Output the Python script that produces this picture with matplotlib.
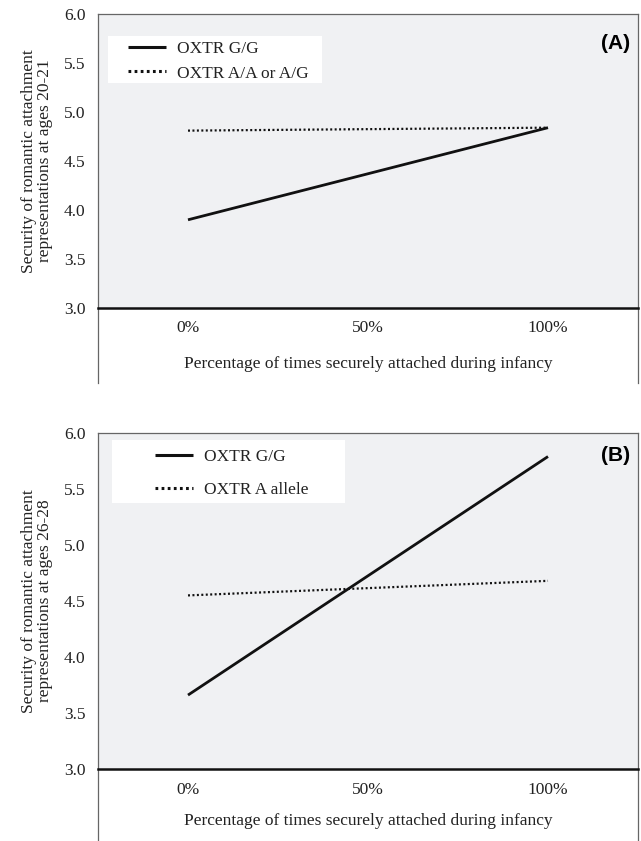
import matplotlib.pyplot as plt
from matplotlib.lines import Line2D
from matplotlib.patches import Rectangle

# categories on the x axis
x_labels = ['0%', '50%', '100%']
x_pos = [0, 1, 2]

# panel A: ages 20-21
a_gg = [3.90, 4.84]
a_other = [4.81, 4.84]
# panel B: ages 26-28
b_gg = [3.66, 5.79]
b_other = [4.55, 4.68]

plt.rcParams['font.family'] = ['Liberation Serif', 'DejaVu Serif']
FS = 12.5

fig = plt.figure(figsize=(6.41, 8.41), dpi=100)
axA = fig.add_axes([98/641, 1-308/841, 540/641, 294/841])
axB = fig.add_axes([98/641, 1-769/841, 540/641, 336/841])


def panel(ax, gg, other, lab_other, ylab, tag, tag_y, ext, xpad, box, anchor, spacing):
    ax.set_facecolor('#f0f1f3')
    ax.plot([x_pos[0], x_pos[2]], gg, color='#111111', lw=2.0, solid_capstyle='butt',
            label='OXTR G/G')
    ax.plot([x_pos[0], x_pos[2]], other, color='#111111', lw=1.6, ls=(0, (0.9, 1.1)),
            label=lab_other)
    ax.set_xlim(-0.5, 2.5)
    ax.set_ylim(3.0, 6.0)
    ax.set_yticks([3.0, 3.5, 4.0, 4.5, 5.0, 5.5, 6.0])
    ax.set_yticklabels(['%.1f' % v for v in [3.0, 3.5, 4.0, 4.5, 5.0, 5.5, 6.0]])
    ax.set_xticks(x_pos)
    ax.set_xticklabels(x_labels)
    ax.tick_params(length=0, labelsize=FS, colors='#222222')
    ax.tick_params(axis='y', pad=9)
    ax.tick_params(axis='x', pad=9)
    for s in ['top', 'left', 'right']:
        ax.spines[s].set_color('#666666')
        ax.spines[s].set_linewidth(0.9)
    ax.spines['bottom'].set_color('#111111')
    ax.spines['bottom'].set_linewidth(1.8)
    # frame lines continuing below the x axis
    for xx in [0, 1]:
        ax.add_line(Line2D([xx, xx], [0, -ext], transform=ax.transAxes, color='#666666',
                           lw=0.9, clip_on=False))
    ax.set_xlabel('Percentage of times securely attached during infancy', fontsize=FS,
                  color='#222222', labelpad=xpad)
    ax.set_ylabel(ylab, fontsize=FS, color='#222222', labelpad=8, linespacing=1.0)
    ax.text(0.985, tag_y, tag, transform=ax.transAxes, ha='right', va='center',
            fontsize=15, fontweight='bold', family=['Liberation Sans', 'DejaVu Sans'])
    ax.add_patch(Rectangle(box[:2], box[2], box[3], transform=ax.transAxes,
                           facecolor='white', edgecolor='none', zorder=1.5))
    leg = ax.legend(loc='upper left', bbox_to_anchor=anchor, fontsize=FS, frameon=False,
                    handlelength=2.2, handletextpad=0.6, borderpad=0, borderaxespad=0,
                    labelspacing=spacing)
    for t in leg.get_texts():
        t.set_color('#222222')
    for h in leg.get_lines():
        h.set_linewidth(2.2)


panel(axA, a_gg, a_other, 'OXTR A/A or A/G',
      'Security of romantic attachment\nrepresentations at ages 20-21', '(A)', 0.90, 0.255, 14,
      (0.0185, 0.765, 0.396, 0.160), (0.0556, 0.908), 0.47)
panel(axB, b_gg, b_other, 'OXTR A allele',
      'Security of romantic attachment\nrepresentations at ages 26-28', '(B)', 0.934, 0.215, 11,
      (0.026, 0.792, 0.431, 0.1875), (0.1056, 0.954), 0.98)

fig.savefig('out.png', dpi=100)
